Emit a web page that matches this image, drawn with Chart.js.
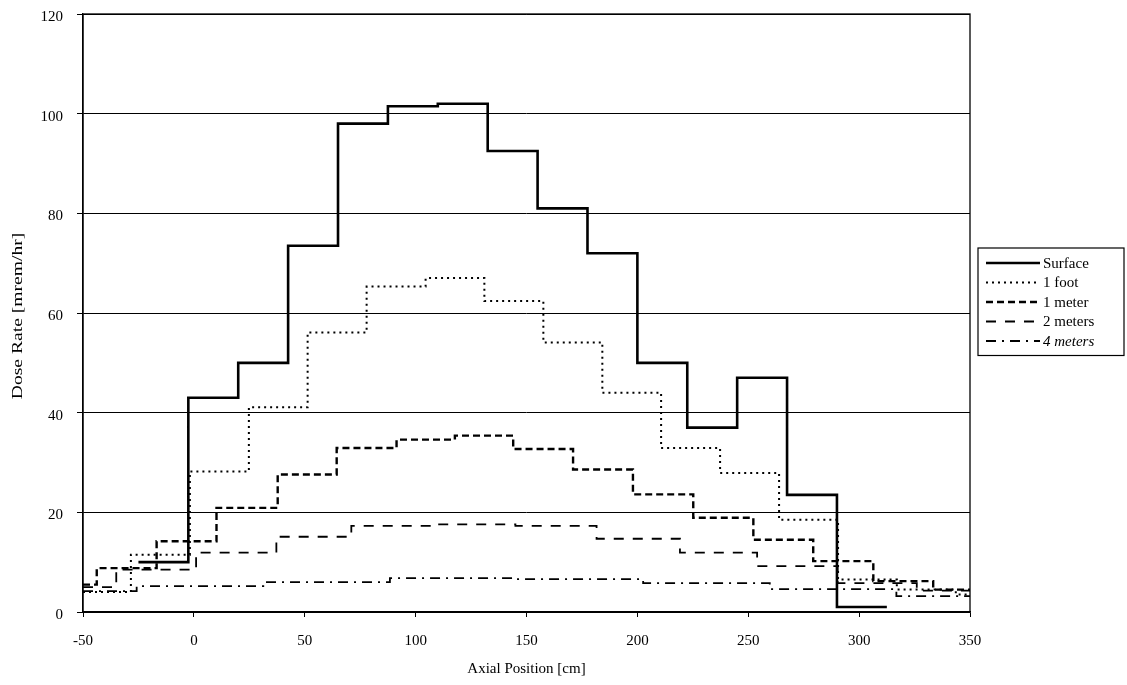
<!DOCTYPE html>
<html>
<head>
<meta charset="utf-8">
<script src="https://cdn.jsdelivr.net/npm/chart.js@4.4.0/dist/chart.umd.min.js"></script>
<style>
    html, body { margin: 0; padding: 0; background: #fff; }
    #wrap { width: 1127px; height: 685px; }
</style>
</head>
<body>
<div id="wrap"><canvas id="doseChart" width="1127" height="685"></canvas></div>
<script>
// Bin edges [cm] and dose rates [mrem/hr]
const seriesNames = ['Surface', '1 foot', '1 meter', '2 meters', '4 meters'];

const surfaceEdges = [-25, -2.5, 20, 42.5, 65, 87.5, 110, 132.5, 155, 177.5, 200, 222.5, 245, 267.5, 290, 312.5];
const surfaceValues = [10, 43, 50, 73.5, 98, 101.5, 102, 92.5, 81, 72, 50, 37, 47, 23.5, 1];

const footEdges = [-50, -28.4, -1.8, 24.8, 51.3, 77.9, 104.5, 131, 157.6, 184.2, 210.7, 237.3, 263.9, 290.5, 317, 343.6, 350];
const footValues = [4, 11.5, 28.2, 41.1, 56.1, 65.3, 67, 62.4, 54.1, 44, 32.9, 27.9, 18.5, 6.5, 4.5, 3.5];

const meterEdges = [-50, -43.8, -16.8, 10.2, 37.8, 64.4, 91.4, 117.7, 144, 171, 198, 225.2, 252.3, 279.3, 306.4, 333.4, 350];
const meterValues = [5.5, 8.8, 14.2, 20.9, 27.6, 32.9, 34.6, 35.4, 32.7, 28.6, 23.6, 18.9, 14.5, 10.2, 6.2, 4.5];

const twoMeterEdges = [-50, -35, 1, 37.2, 71, 108, 145, 181.6, 219.2, 254, 290.3, 326, 350];
const twoMeterValues = [5, 8.5, 11.9, 15.1, 17.3, 17.6, 17.3, 14.7, 11.9, 9.2, 5.8, 4.3];

const fourMeterEdges = [-50, -25.8, 31.3, 88.4, 145.5, 202.6, 259.7, 316.8, 350];
const fourMeterValues = [4.2, 5.2, 6, 6.8, 6.6, 5.8, 4.6, 3.2];

const xTicks = [-50, 0, 50, 100, 150, 200, 250, 300, 350];
const yTicks = [0, 20, 40, 60, 80, 100, 120];

const FONT = '"Liberation Serif", "Times New Roman", serif';

// histogram: each edge gets the value of the bin it opens, the last edge closes the last bin
function toSteps(edges, values) {
    return edges.map((x, i) => ({ x: x, y: values[Math.min(i, values.length - 1)] }));
}

const styles = [
    { width: 2.6, dash: [], italic: false },
    { width: 2, dash: [2, 4], italic: false },
    { width: 2.4, dash: [7, 4], italic: false },
    { width: 1.8, dash: [10, 9], italic: false },
    { width: 1.8, dash: [10, 6, 2, 6], italic: true }
];

const allSeries = [
    toSteps(surfaceEdges, surfaceValues),
    toSteps(footEdges, footValues),
    toSteps(meterEdges, meterValues),
    toSteps(twoMeterEdges, twoMeterValues),
    toSteps(fourMeterEdges, fourMeterValues)
];

// white page + frame round the plot area + the tall y title
const framePlugin = {
    id: 'frame',
    beforeDraw(chart) {
        const ctx = chart.ctx;
        ctx.save();
        ctx.fillStyle = '#fff';
        ctx.fillRect(0, 0, chart.width, chart.height);
        ctx.restore();
    },
    afterDatasetsDraw(chart) {
        const { ctx, chartArea: a } = chart;
        ctx.save();
        ctx.strokeStyle = '#000';
        ctx.lineWidth = 1.3;
        ctx.strokeRect(a.left, a.top, a.right - a.left, a.bottom - a.top);
        ctx.restore();
    },
    afterDraw(chart) {
        const { ctx, chartArea: a } = chart;
        ctx.save();
        ctx.translate(18, (a.top + a.bottom) / 2 + 3);
        ctx.rotate(-Math.PI / 2);
        ctx.scale(1.4, 1);
        ctx.font = '14px ' + FONT;
        ctx.fillStyle = '#000';
        ctx.textAlign = 'center';
        ctx.textBaseline = 'middle';
        ctx.fillText('Dose Rate [mrem/hr]', 0, 0);
        ctx.restore();
    }
};

// boxed legend to the right, like the original
const boxLegendPlugin = {
    id: 'boxLegend',
    afterDraw(chart) {
        const ctx = chart.ctx;
        const left = 978, top = 248, w = 146, rowH = 19.5;
        const h = rowH * seriesNames.length + 10;
        ctx.save();
        ctx.strokeStyle = '#000';
        ctx.lineWidth = 1.2;
        ctx.strokeRect(left, top, w, h);
        ctx.textBaseline = 'middle';
        ctx.fillStyle = '#000';
        seriesNames.forEach((name, i) => {
            const y = top + 15 + i * rowH;
            ctx.beginPath();
            ctx.lineWidth = styles[i].width;
            ctx.setLineDash(styles[i].dash);
            ctx.moveTo(986, y);
            ctx.lineTo(1040, y);
            ctx.stroke();
            ctx.setLineDash([]);
            ctx.font = (styles[i].italic ? 'italic ' : '') + '15px ' + FONT;
            ctx.fillText(name, 1043, y + 1);
        });
        ctx.restore();
    }
};

const ctx = document.getElementById('doseChart').getContext('2d');
new Chart(ctx, {
    type: 'line',
    data: {
        datasets: allSeries.map((pts, i) => ({
            label: seriesNames[i],
            data: pts,
            stepped: true,
            borderColor: '#000',
            borderWidth: styles[i].width,
            borderDash: styles[i].dash,
            pointRadius: 0,
            fill: false
        }))
    },
    options: {
        responsive: false,
        animation: false,
        layout: { padding: { top: 14, right: 157, left: 0, bottom: 0 } },
        plugins: {
            legend: { display: false },
            tooltip: { enabled: false }
        },
        scales: {
            x: {
                type: 'linear',
                min: -50,
                max: 350,
                afterBuildTicks: (axis) => { axis.ticks = xTicks.map(v => ({ value: v })); },
                afterFit: (axis) => { axis.height = 73; },
                grid: { drawOnChartArea: false, color: '#000', tickLength: 5, lineWidth: 1 },
                border: { display: true, color: '#000', width: 1.3 },
                ticks: { color: '#000', font: { family: FONT, size: 15 }, padding: 15, maxRotation: 0 },
                title: { display: true, text: 'Axial Position [cm]', color: '#000', font: { family: FONT, size: 15 }, padding: { top: 4, bottom: 7 } }
            },
            y: {
                min: 0,
                max: 120,
                afterBuildTicks: (axis) => { axis.ticks = yTicks.map(v => ({ value: v })); },
                afterFit: (axis) => {
                    axis.width = 83;
                    axis.paddingTop = 0;
                    axis.paddingBottom = 0;
                },
                grid: { color: '#000', tickLength: 6, lineWidth: 1 },
                border: { display: true, color: '#000', width: 1.3 },
                ticks: { color: '#000', font: { family: FONT, size: 15 }, padding: 14, labelOffset: 3 },
                title: { display: false }
            }
        }
    },
    plugins: [framePlugin, boxLegendPlugin]
});
</script>
</body>
</html>
